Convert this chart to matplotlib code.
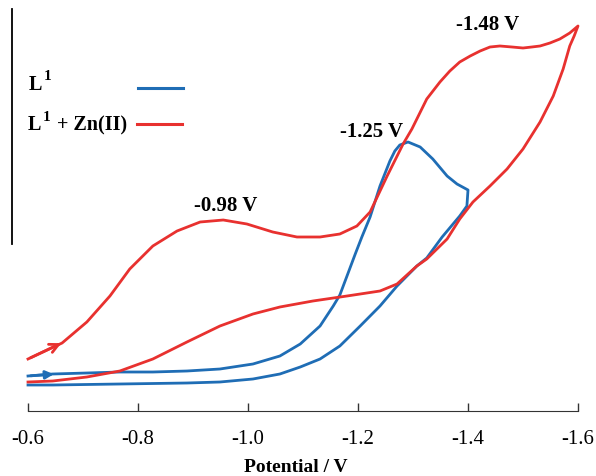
import matplotlib
matplotlib.use('Agg')
import matplotlib.pyplot as plt

plt.rcParams['font.family'] = 'Liberation Serif'
plt.rcParams['axes.unicode_minus'] = False

# L1 : forward then reverse scan (potential in V, current in arb. units)
blue_E = [-0.600, -0.645, -0.707, -0.767, -0.827, -0.889, -0.949, -1.009, -1.058,
          -1.095, -1.131, -1.155, -1.167, -1.180, -1.195, -1.207, -1.222, -1.240,
          -1.258, -1.267, -1.276, -1.291, -1.313, -1.336, -1.362, -1.380, -1.400,
          -1.398, -1.385, -1.353, -1.325, -1.307, -1.271, -1.240, -1.204, -1.167,
          -1.131, -1.095, -1.058, -1.009, -0.949, -0.889, -0.767, -0.645, -0.600]
blue_I = [3.5, 3.7, 3.8, 3.9, 3.9, 4.0, 4.2, 4.7, 5.5,
          6.7, 8.5, 10.5, 11.6, 13.5, 15.7, 17.4, 19.4, 22.5,
          25.0, 26.0, 26.6, 26.9, 26.4, 25.2, 23.5, 22.7, 22.1,
          20.5, 19.5, 17.4, 15.3, 14.5, 12.5, 10.5, 8.5, 6.5,
          5.2, 4.4, 3.7, 3.2, 2.9, 2.8, 2.7, 2.6, 2.6]

# L1 + Zn(II)
red_E = [-0.600, -0.631, -0.662, -0.707, -0.749, -0.785, -0.827, -0.871, -0.913,
         -0.955, -0.998, -1.045, -1.089, -1.131, -1.167, -1.198, -1.222, -1.253,
         -1.282, -1.298, -1.325, -1.349, -1.367, -1.385, -1.404, -1.422, -1.440,
         -1.458, -1.480, -1.500, -1.516, -1.531, -1.549, -1.567, -1.585, -1.600,
         -1.593, -1.585, -1.573, -1.555, -1.531, -1.500, -1.471, -1.440, -1.409,
         -1.385, -1.362, -1.325, -1.307, -1.271, -1.240, -1.180, -1.118, -1.058,
         -1.009, -0.949, -0.889, -0.827, -0.767, -0.707, -0.645, -0.600]
red_I = [5.2, 6.0, 6.8, 8.9, 11.5, 14.2, 16.5, 18.0, 18.9,
         19.1, 18.7, 17.9, 17.4, 17.4, 17.7, 18.5, 19.9, 23.5,
         26.7, 28.2, 31.2, 32.9, 34.0, 34.9, 35.5, 36.0, 36.4,
         36.5, 36.4, 36.3, 36.4, 36.5, 36.8, 37.2, 37.8, 38.5,
         37.5, 36.5, 34.2, 31.5, 28.9, 26.2, 24.2, 22.5, 20.9,
         19.2, 17.2, 15.2, 14.5, 12.7, 12.0, 11.5, 11.0, 10.4,
         9.7, 8.5, 6.9, 5.2, 4.0, 3.4, 3.0, 2.9]

xticks = [-0.6, -0.8, -1.0, -1.2, -1.4, -1.6]
peak_labels = ['-0.98 V', '-1.25 V', '-1.48 V']
peak_pos = [(-0.960, 20.6), (-1.2255, 28.0), (-1.436, 38.7)]

blue = '#1f6db5'
red = '#e8312f'

W, H = 596, 477
fig = plt.figure(figsize=(W/100, H/100), dpi=100)
ax = fig.add_axes([12/W, 65/H, 568/W, 412/H])

ax.plot(blue_E, blue_I, color=blue, lw=2.0, solid_joinstyle='round')
ax.plot(red_E, red_I, color=red, lw=2.0, solid_joinstyle='round')

# scan direction arrows
ax.annotate('', xy=(-0.665, 6.9), xytext=(-0.600, 5.2),
            arrowprops=dict(arrowstyle='->', color=red, lw=2, mutation_scale=16))
ax.annotate('', xy=(-0.652, 3.7), xytext=(-0.600, 3.5),
            arrowprops=dict(arrowstyle='-|>', color=blue, lw=2, mutation_scale=12))

for txt, (x, y) in zip(peak_labels, peak_pos):
    ax.text(x, y, txt, ha='center', va='center', fontsize=15, fontweight='bold')

# legend drawn by hand (pixel positions from top-left)
def px(x, y):
    return x / W, 1 - y / H

bold = dict(fontweight='bold', va='baseline', ha='left')
fig.text(*px(29, 90), 'L', fontsize=14.5, **bold)
fig.text(*px(44, 80), '1', fontsize=11, **bold)
fig.text(*px(28, 130), 'L', fontsize=14.5, **bold)
fig.text(*px(43, 121), '1', fontsize=11, **bold)
fig.text(*px(57, 130), '+ Zn(II)', fontsize=14.5, **bold)
fig.add_artist(plt.Line2D([138/W, 183/W], [1 - 89/H] * 2, color=blue, lw=2.2))
fig.add_artist(plt.Line2D([137/W, 182/W], [1 - 125/H] * 2, color=red, lw=2.2))

ax.set_xlim(-0.6 + 16/550, -1.6 - 2/550)
ax.set_ylim(0, 41.2)
ax.set_xticks(xticks)
ax.set_yticks([])
ax.spines['top'].set_visible(False)
ax.spines['right'].set_visible(False)
ax.spines['bottom'].set_bounds(-0.6, -1.6)
ax.spines['left'].set_bounds(16.7, 40.2)
ax.spines['bottom'].set_color('#333333')
ax.spines['left'].set_color('black')
ax.spines['left'].set_linewidth(1.3)
ax.tick_params(axis='x', direction='in', length=6, width=1, pad=13, labelsize=15,
               colors='#333333', labelcolor='black')
ax.set_xlabel('Potential / V', fontsize=14, fontweight='bold', labelpad=7)

fig.savefig('out.png', dpi=100)
